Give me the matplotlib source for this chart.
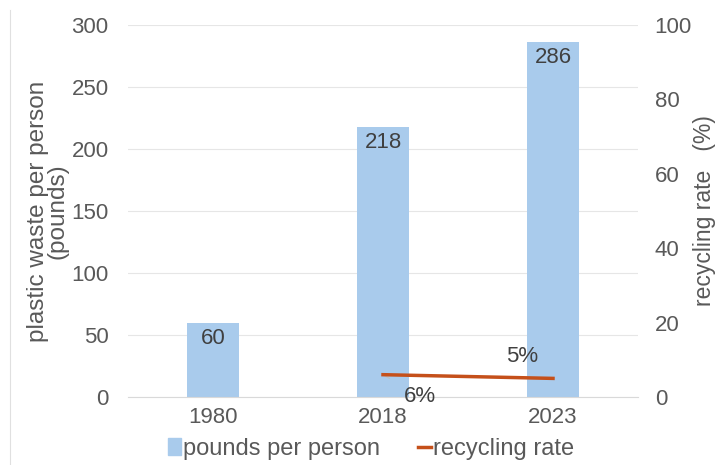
import matplotlib.pyplot as plt
from matplotlib.lines import Line2D
from matplotlib.patches import Patch

# Data
years = ['1980', '2018', '2023']
pounds = [60, 218, 286]
rate_years = ['2018', '2023']
rate = [6, 5]

grey = '#595959'
bar_color = '#a9cbec'
line_color = '#c5501a'

plt.rcParams['font.family'] = 'Liberation Sans'

fig = plt.figure(figsize=(7.19, 4.65), dpi=100)
ax = fig.add_axes([128 / 719, 1 - 397 / 465, 510 / 719, 372 / 465])
ax2 = ax.twinx()

x = list(range(len(years)))
bars = ax.bar(x, pounds, width=0.31, color=bar_color, zorder=2)
ax.set_xlim(-0.5, 2.5)
ax.set_ylim(0, 300)
ax.set_yticks(range(0, 301, 50))
ax.set_xticks(x)
ax.set_xticklabels(years)
ax.grid(axis='y', color='#e6e6e6', lw=0.8, zorder=0)
ax.set_ylabel('plastic waste per person\n(pounds)', color=grey, fontsize=17.5,
              linespacing=0.85, labelpad=2)

for b, v in zip(bars, pounds):
    ax.text(b.get_x() + b.get_width() / 2, v - 4, str(v), ha='center', va='top',
            fontsize=16, color='#404040', zorder=3)

rx = [years.index(y) for y in rate_years]
ax2.plot(rx, rate, color=line_color, lw=2.5, zorder=4)
ax2.set_ylim(0, 100)
ax2.set_yticks(range(0, 101, 20))
ax2.set_ylabel('recycling rate   (%)', color=grey, fontsize=16.5, labelpad=1)

# value labels with leader lines
ax2.annotate(f'{rate[0]}%', xy=(rx[0], rate[0]), xytext=(rx[0] + 0.22, 0.2),
             ha='center', va='center', fontsize=16, color='#404040',
             arrowprops=dict(arrowstyle='-', color='#bfbfbf', lw=0.8,
                             shrinkA=10, shrinkB=0))
ax2.annotate(f'{rate[1]}%', xy=(rx[1], rate[1]), xytext=(rx[1] - 0.18, 10.8),
             ha='center', va='center', fontsize=16, color='#404040',
             arrowprops=dict(arrowstyle='-', color='#bfbfbf', lw=0.8,
                             shrinkA=10, shrinkB=0))

for a in (ax, ax2):
    for s in a.spines.values():
        s.set_visible(False)
    a.tick_params(length=0, labelsize=16, colors=grey)
ax.spines['bottom'].set_visible(True)
ax.spines['bottom'].set_color('#d9d9d9')
ax.tick_params(axis='y', pad=14)
ax.tick_params(axis='x', pad=7)
ax2.tick_params(axis='y', pad=12)

handles = [Patch(color=bar_color, label='pounds per person'),
           Line2D([0], [0], color=line_color, lw=2.5, label='recycling rate')]
fig.legend(handles=handles, loc='center', bbox_to_anchor=(371 / 719, 1 - 449 / 465),
           ncol=2, frameon=False, fontsize=17, labelcolor=grey,
           handlelength=0.55, handletextpad=0.1, columnspacing=1.6)

fig.add_artist(Line2D([10 / 719, 10 / 719], [0, 1 - 10 / 465], color='#e0e0e0', lw=0.8))

fig.savefig('out.png', dpi=100)
